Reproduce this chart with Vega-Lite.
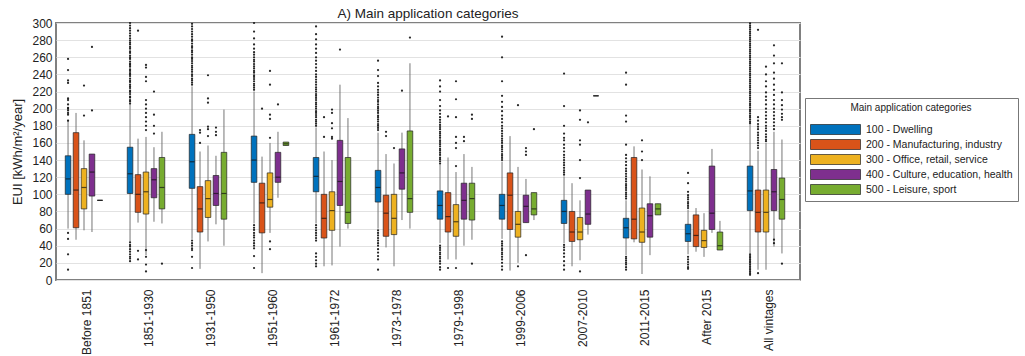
{
  "$schema": "https://vega.github.io/schema/vega-lite/v6.json",
  "width": 744,
  "height": 257,
  "autosize": {"type": "none"},
  "padding": {"left": 56, "top": 23, "right": 225, "bottom": 76},
  "background": "white",
  "config": {
    "font": "Liberation Sans",
    "view": {"stroke": "#808080", "strokeWidth": 2},
    "axis": {"labelColor": "#222", "titleColor": "#222", "labelFontSize": 12, "titleFontSize": 13, "titleFontWeight": "normal"},
    "axisY": {"grid": true, "gridColor": "#e2e2e2", "gridWidth": 1, "ticks": false, "domain": false, "labelPadding": 4, "titlePadding": 7, "labelOverlap": false, "tickCount": 16}
  },
  "title": {"text": "A) Main application categories", "fontSize": 13.5, "fontWeight": "normal", "color": "#222", "offset": -3, "anchor": "middle"},
  "datasets": {
    "boxes": [
      {"p": "Before 1851", "c": "100", "lo": 60, "q1": 100, "med": 118, "q3": 145, "hi": 187},
      {"p": "Before 1851", "c": "200", "lo": 47, "q1": 61, "med": 105, "q3": 172, "hi": 195},
      {"p": "Before 1851", "c": "300", "lo": 58, "q1": 83, "med": 108, "q3": 130, "hi": 163},
      {"p": "Before 1851", "c": "400", "lo": 56, "q1": 98, "med": 126, "q3": 147, "hi": 147},
      {"p": "Before 1851", "c": "500", "lo": 93, "q1": 93, "med": 93, "q3": 93, "hi": 93},
      {"p": "1851-1930", "c": "100", "lo": 45, "q1": 101, "med": 124, "q3": 155, "hi": 205},
      {"p": "1851-1930", "c": "200", "lo": 67, "q1": 79, "med": 100, "q3": 123, "hi": 165},
      {"p": "1851-1930", "c": "300", "lo": 29, "q1": 77, "med": 103, "q3": 126, "hi": 167},
      {"p": "1851-1930", "c": "400", "lo": 68, "q1": 96, "med": 117, "q3": 130, "hi": 155},
      {"p": "1851-1930", "c": "500", "lo": 66, "q1": 83, "med": 108, "q3": 143, "hi": 173},
      {"p": "1931-1950", "c": "100", "lo": 48, "q1": 107, "med": 138, "q3": 170, "hi": 226},
      {"p": "1931-1950", "c": "200", "lo": 13, "q1": 56, "med": 83, "q3": 109, "hi": 150},
      {"p": "1931-1950", "c": "300", "lo": 45, "q1": 73, "med": 95, "q3": 116, "hi": 157},
      {"p": "1931-1950", "c": "400", "lo": 65, "q1": 87, "med": 101, "q3": 122, "hi": 145},
      {"p": "1931-1950", "c": "500", "lo": 40, "q1": 71, "med": 101, "q3": 149, "hi": 199},
      {"p": "1951-1960", "c": "100", "lo": 66, "q1": 114, "med": 140, "q3": 168, "hi": 220},
      {"p": "1951-1960", "c": "200", "lo": 8, "q1": 55, "med": 90, "q3": 113, "hi": 144},
      {"p": "1951-1960", "c": "300", "lo": 55, "q1": 85, "med": 94, "q3": 125, "hi": 160},
      {"p": "1951-1960", "c": "400", "lo": 96, "q1": 114, "med": 120, "q3": 149, "hi": 173},
      {"p": "1951-1960", "c": "500", "lo": 157, "q1": 157, "med": 159, "q3": 161, "hi": 161},
      {"p": "1961-1972", "c": "100", "lo": 66, "q1": 103, "med": 121, "q3": 143, "hi": 178},
      {"p": "1961-1972", "c": "200", "lo": 16, "q1": 49, "med": 72, "q3": 100, "hi": 150},
      {"p": "1961-1972", "c": "300", "lo": 17, "q1": 58, "med": 81, "q3": 103, "hi": 140},
      {"p": "1961-1972", "c": "400", "lo": 39, "q1": 87, "med": 115, "q3": 163, "hi": 228},
      {"p": "1961-1972", "c": "500", "lo": 60, "q1": 66, "med": 79, "q3": 143, "hi": 189},
      {"p": "1973-1978", "c": "100", "lo": 60, "q1": 91, "med": 108, "q3": 128, "hi": 172},
      {"p": "1973-1978", "c": "200", "lo": 38, "q1": 51, "med": 78, "q3": 99, "hi": 147},
      {"p": "1973-1978", "c": "300", "lo": 16, "q1": 53, "med": 72, "q3": 100, "hi": 136},
      {"p": "1973-1978", "c": "400", "lo": 70, "q1": 106, "med": 125, "q3": 153, "hi": 172},
      {"p": "1973-1978", "c": "500", "lo": 60, "q1": 79, "med": 95, "q3": 174, "hi": 253},
      {"p": "1979-1998", "c": "100", "lo": 43, "q1": 71, "med": 87, "q3": 104, "hi": 135},
      {"p": "1979-1998", "c": "200", "lo": 24, "q1": 56, "med": 74, "q3": 102, "hi": 143},
      {"p": "1979-1998", "c": "300", "lo": 24, "q1": 51, "med": 68, "q3": 88, "hi": 126},
      {"p": "1979-1998", "c": "400", "lo": 40, "q1": 71, "med": 93, "q3": 113, "hi": 147},
      {"p": "1979-1998", "c": "500", "lo": 47, "q1": 70, "med": 95, "q3": 113, "hi": 132},
      {"p": "1999-2006", "c": "100", "lo": 48, "q1": 71, "med": 87, "q3": 100, "hi": 138},
      {"p": "1999-2006", "c": "200", "lo": 11, "q1": 59, "med": 99, "q3": 125, "hi": 168},
      {"p": "1999-2006", "c": "300", "lo": 20, "q1": 50, "med": 65, "q3": 80, "hi": 132},
      {"p": "1999-2006", "c": "400", "lo": 67, "q1": 67, "med": 86, "q3": 99, "hi": 118},
      {"p": "1999-2006", "c": "500", "lo": 70, "q1": 76, "med": 83, "q3": 102, "hi": 102},
      {"p": "2007-2010", "c": "100", "lo": 43, "q1": 66, "med": 80, "q3": 93, "hi": 121},
      {"p": "2007-2010", "c": "200", "lo": 16, "q1": 45, "med": 56, "q3": 80, "hi": 113},
      {"p": "2007-2010", "c": "300", "lo": 23, "q1": 47, "med": 56, "q3": 73, "hi": 93},
      {"p": "2007-2010", "c": "400", "lo": 53, "q1": 65, "med": 77, "q3": 105, "hi": 105},
      {"p": "2007-2010", "c": "500", "lo": 215, "q1": 215, "med": 215, "q3": 215, "hi": 215},
      {"p": "2011-2015", "c": "100", "lo": 29, "q1": 49, "med": 61, "q3": 72, "hi": 93},
      {"p": "2011-2015", "c": "200", "lo": 44, "q1": 48, "med": 71, "q3": 143, "hi": 156},
      {"p": "2011-2015", "c": "300", "lo": 7, "q1": 44, "med": 56, "q3": 84, "hi": 129},
      {"p": "2011-2015", "c": "400", "lo": 29, "q1": 50, "med": 75, "q3": 89, "hi": 121},
      {"p": "2011-2015", "c": "500", "lo": 76, "q1": 76, "med": 83, "q3": 89, "hi": 89},
      {"p": "After 2015", "c": "100", "lo": 30, "q1": 45, "med": 54, "q3": 65, "hi": 82},
      {"p": "After 2015", "c": "200", "lo": 33, "q1": 39, "med": 52, "q3": 76, "hi": 84},
      {"p": "After 2015", "c": "300", "lo": 27, "q1": 38, "med": 46, "q3": 58, "hi": 78},
      {"p": "After 2015", "c": "400", "lo": 55, "q1": 59, "med": 78, "q3": 133, "hi": 153},
      {"p": "After 2015", "c": "500", "lo": 35, "q1": 35, "med": 40, "q3": 56, "hi": 69},
      {"p": "All vintages", "c": "100", "lo": 31, "q1": 81, "med": 104, "q3": 133, "hi": 182},
      {"p": "All vintages", "c": "200", "lo": 12, "q1": 56, "med": 79, "q3": 105, "hi": 151},
      {"p": "All vintages", "c": "300", "lo": 12, "q1": 56, "med": 79, "q3": 105, "hi": 160},
      {"p": "All vintages", "c": "400", "lo": 39, "q1": 81, "med": 103, "q3": 129, "hi": 173},
      {"p": "All vintages", "c": "500", "lo": 31, "q1": 71, "med": 94, "q3": 119, "hi": 164}
    ],
    "out": [
      {"p":"Before 1851","c":"100","v":186},{"p":"Before 1851","c":"100","v":193},{"p":"Before 1851","c":"100","v":195},{"p":"Before 1851","c":"100","v":198},{"p":"Before 1851","c":"100","v":200},{"p":"Before 1851","c":"100","v":201},{"p":"Before 1851","c":"100","v":205},{"p":"Before 1851","c":"100","v":210},{"p":"Before 1851","c":"100","v":212},{"p":"Before 1851","c":"100","v":230},{"p":"Before 1851","c":"100","v":233},{"p":"Before 1851","c":"100","v":245},{"p":"Before 1851","c":"100","v":258},{"p":"Before 1851","c":"100","v":55},{"p":"Before 1851","c":"100","v":48},{"p":"Before 1851","c":"100","v":30},{"p":"Before 1851","c":"100","v":12},
      {"p":"Before 1851","c":"300","v":227},{"p":"Before 1851","c":"300","v":192},
      {"p":"Before 1851","c":"400","v":272},{"p":"Before 1851","c":"400","v":198},

      {"p":"1851-1930","c":"100","v":206},{"p":"1851-1930","c":"100","v":208.5},{"p":"1851-1930","c":"100","v":210},{"p":"1851-1930","c":"100","v":213},{"p":"1851-1930","c":"100","v":214},{"p":"1851-1930","c":"100","v":217},{"p":"1851-1930","c":"100","v":219.5},{"p":"1851-1930","c":"100","v":221},{"p":"1851-1930","c":"100","v":224},{"p":"1851-1930","c":"100","v":226},{"p":"1851-1930","c":"100","v":228},{"p":"1851-1930","c":"100","v":231},{"p":"1851-1930","c":"100","v":232.5},{"p":"1851-1930","c":"100","v":235},{"p":"1851-1930","c":"100","v":238},{"p":"1851-1930","c":"100","v":240},{"p":"1851-1930","c":"100","v":241.5},{"p":"1851-1930","c":"100","v":244},{"p":"1851-1930","c":"100","v":246},{"p":"1851-1930","c":"100","v":249},{"p":"1851-1930","c":"100","v":251},{"p":"1851-1930","c":"100","v":252.5},{"p":"1851-1930","c":"100","v":255},{"p":"1851-1930","c":"100","v":258},{"p":"1851-1930","c":"100","v":260},{"p":"1851-1930","c":"100","v":262},{"p":"1851-1930","c":"100","v":265},{"p":"1851-1930","c":"100","v":267},{"p":"1851-1930","c":"100","v":270},{"p":"1851-1930","c":"100","v":272},{"p":"1851-1930","c":"100","v":275},{"p":"1851-1930","c":"100","v":277},{"p":"1851-1930","c":"100","v":279.5},{"p":"1851-1930","c":"100","v":282},{"p":"1851-1930","c":"100","v":285},{"p":"1851-1930","c":"100","v":288},{"p":"1851-1930","c":"100","v":291},{"p":"1851-1930","c":"100","v":294},{"p":"1851-1930","c":"100","v":297},{"p":"1851-1930","c":"100","v":300},{"p":"1851-1930","c":"100","v":44},{"p":"1851-1930","c":"100","v":41},{"p":"1851-1930","c":"100","v":39},{"p":"1851-1930","c":"100","v":36},{"p":"1851-1930","c":"100","v":33},{"p":"1851-1930","c":"100","v":30},{"p":"1851-1930","c":"100","v":27},{"p":"1851-1930","c":"100","v":25},{"p":"1851-1930","c":"100","v":22},
      {"p":"1851-1930","c":"200","v":291},{"p":"1851-1930","c":"200","v":34},{"p":"1851-1930","c":"200","v":24},
      {"p":"1851-1930","c":"300","v":251},{"p":"1851-1930","c":"300","v":248},{"p":"1851-1930","c":"300","v":237},{"p":"1851-1930","c":"300","v":232},{"p":"1851-1930","c":"300","v":210},{"p":"1851-1930","c":"300","v":205},{"p":"1851-1930","c":"300","v":200},{"p":"1851-1930","c":"300","v":195},{"p":"1851-1930","c":"300","v":190},{"p":"1851-1930","c":"300","v":185},{"p":"1851-1930","c":"300","v":180},{"p":"1851-1930","c":"300","v":175},{"p":"1851-1930","c":"300","v":35},{"p":"1851-1930","c":"300","v":27},{"p":"1851-1930","c":"300","v":18},{"p":"1851-1930","c":"300","v":10},
      {"p":"1851-1930","c":"400","v":220},{"p":"1851-1930","c":"400","v":193},{"p":"1851-1930","c":"400","v":180},{"p":"1851-1930","c":"400","v":171},
      {"p":"1851-1930","c":"500","v":19},

      {"p":"1931-1950","c":"100","v":228},{"p":"1931-1950","c":"100","v":230.5},{"p":"1931-1950","c":"100","v":233},{"p":"1931-1950","c":"100","v":235},{"p":"1931-1950","c":"100","v":238},{"p":"1931-1950","c":"100","v":240},{"p":"1931-1950","c":"100","v":243},{"p":"1931-1950","c":"100","v":245.5},{"p":"1931-1950","c":"100","v":248},{"p":"1931-1950","c":"100","v":250},{"p":"1931-1950","c":"100","v":253},{"p":"1931-1950","c":"100","v":255.5},{"p":"1931-1950","c":"100","v":258},{"p":"1931-1950","c":"100","v":260},{"p":"1931-1950","c":"100","v":263},{"p":"1931-1950","c":"100","v":266},{"p":"1931-1950","c":"100","v":268},{"p":"1931-1950","c":"100","v":271},{"p":"1931-1950","c":"100","v":273},{"p":"1931-1950","c":"100","v":276},{"p":"1931-1950","c":"100","v":279},{"p":"1931-1950","c":"100","v":281},{"p":"1931-1950","c":"100","v":284},{"p":"1931-1950","c":"100","v":287},{"p":"1931-1950","c":"100","v":290},{"p":"1931-1950","c":"100","v":293},{"p":"1931-1950","c":"100","v":296},{"p":"1931-1950","c":"100","v":299},{"p":"1931-1950","c":"100","v":46},{"p":"1931-1950","c":"100","v":43},{"p":"1931-1950","c":"100","v":40},{"p":"1931-1950","c":"100","v":37},{"p":"1931-1950","c":"100","v":35},{"p":"1931-1950","c":"100","v":27},{"p":"1931-1950","c":"100","v":14},
      {"p":"1931-1950","c":"200","v":175},{"p":"1931-1950","c":"200","v":172},{"p":"1931-1950","c":"200","v":160},
      {"p":"1931-1950","c":"300","v":239},{"p":"1931-1950","c":"300","v":212},{"p":"1931-1950","c":"300","v":207},{"p":"1931-1950","c":"300","v":179},{"p":"1931-1950","c":"300","v":176},{"p":"1931-1950","c":"300","v":168},
      {"p":"1931-1950","c":"400","v":178},{"p":"1931-1950","c":"400","v":173},{"p":"1931-1950","c":"400","v":169},

      {"p":"1951-1960","c":"100","v":222},{"p":"1951-1960","c":"100","v":224.5},{"p":"1951-1960","c":"100","v":227},{"p":"1951-1960","c":"100","v":229},{"p":"1951-1960","c":"100","v":232},{"p":"1951-1960","c":"100","v":234.5},{"p":"1951-1960","c":"100","v":237},{"p":"1951-1960","c":"100","v":239},{"p":"1951-1960","c":"100","v":242},{"p":"1951-1960","c":"100","v":244},{"p":"1951-1960","c":"100","v":247},{"p":"1951-1960","c":"100","v":249.5},{"p":"1951-1960","c":"100","v":252},{"p":"1951-1960","c":"100","v":255},{"p":"1951-1960","c":"100","v":257},{"p":"1951-1960","c":"100","v":260},{"p":"1951-1960","c":"100","v":263},{"p":"1951-1960","c":"100","v":266},{"p":"1951-1960","c":"100","v":270},{"p":"1951-1960","c":"100","v":275},{"p":"1951-1960","c":"100","v":282},{"p":"1951-1960","c":"100","v":290},{"p":"1951-1960","c":"100","v":300},{"p":"1951-1960","c":"100","v":64},{"p":"1951-1960","c":"100","v":61},{"p":"1951-1960","c":"100","v":58.5},{"p":"1951-1960","c":"100","v":55},{"p":"1951-1960","c":"100","v":52},{"p":"1951-1960","c":"100","v":49.5},{"p":"1951-1960","c":"100","v":46},{"p":"1951-1960","c":"100","v":43},{"p":"1951-1960","c":"100","v":40},{"p":"1951-1960","c":"100","v":37},{"p":"1951-1960","c":"100","v":28},{"p":"1951-1960","c":"100","v":14},
      {"p":"1951-1960","c":"200","v":200},
      {"p":"1951-1960","c":"300","v":244},{"p":"1951-1960","c":"300","v":228},{"p":"1951-1960","c":"300","v":193},{"p":"1951-1960","c":"300","v":188},{"p":"1951-1960","c":"300","v":166},{"p":"1951-1960","c":"300","v":45},{"p":"1951-1960","c":"300","v":36},
      {"p":"1951-1960","c":"400","v":205},

      {"p":"1961-1972","c":"100","v":180},{"p":"1961-1972","c":"100","v":182.5},{"p":"1961-1972","c":"100","v":185},{"p":"1961-1972","c":"100","v":187},{"p":"1961-1972","c":"100","v":190},{"p":"1961-1972","c":"100","v":192.5},{"p":"1961-1972","c":"100","v":195},{"p":"1961-1972","c":"100","v":197},{"p":"1961-1972","c":"100","v":200},{"p":"1961-1972","c":"100","v":202.5},{"p":"1961-1972","c":"100","v":205},{"p":"1961-1972","c":"100","v":207},{"p":"1961-1972","c":"100","v":210},{"p":"1961-1972","c":"100","v":212.5},{"p":"1961-1972","c":"100","v":215},{"p":"1961-1972","c":"100","v":217},{"p":"1961-1972","c":"100","v":220},{"p":"1961-1972","c":"100","v":222.5},{"p":"1961-1972","c":"100","v":225},{"p":"1961-1972","c":"100","v":228},{"p":"1961-1972","c":"100","v":231},{"p":"1961-1972","c":"100","v":234},{"p":"1961-1972","c":"100","v":237},{"p":"1961-1972","c":"100","v":240},{"p":"1961-1972","c":"100","v":244},{"p":"1961-1972","c":"100","v":248},{"p":"1961-1972","c":"100","v":252},{"p":"1961-1972","c":"100","v":256},{"p":"1961-1972","c":"100","v":260},{"p":"1961-1972","c":"100","v":265},{"p":"1961-1972","c":"100","v":270},{"p":"1961-1972","c":"100","v":275},{"p":"1961-1972","c":"100","v":281},{"p":"1961-1972","c":"100","v":287},{"p":"1961-1972","c":"100","v":296},{"p":"1961-1972","c":"100","v":64},{"p":"1961-1972","c":"100","v":61},{"p":"1961-1972","c":"100","v":58},{"p":"1961-1972","c":"100","v":55},{"p":"1961-1972","c":"100","v":52},{"p":"1961-1972","c":"100","v":49},{"p":"1961-1972","c":"100","v":46},{"p":"1961-1972","c":"100","v":31},{"p":"1961-1972","c":"100","v":27},{"p":"1961-1972","c":"100","v":23},{"p":"1961-1972","c":"100","v":19},{"p":"1961-1972","c":"100","v":16},
      {"p":"1961-1972","c":"200","v":190},{"p":"1961-1972","c":"200","v":167},
      {"p":"1961-1972","c":"300","v":199},{"p":"1961-1972","c":"300","v":195},{"p":"1961-1972","c":"300","v":183},{"p":"1961-1972","c":"300","v":177},{"p":"1961-1972","c":"300","v":167},{"p":"1961-1972","c":"300","v":165},
      {"p":"1961-1972","c":"400","v":269},

      {"p":"1973-1978","c":"100","v":175},{"p":"1973-1978","c":"100","v":177.5},{"p":"1973-1978","c":"100","v":180},{"p":"1973-1978","c":"100","v":182},{"p":"1973-1978","c":"100","v":185},{"p":"1973-1978","c":"100","v":187.5},{"p":"1973-1978","c":"100","v":190},{"p":"1973-1978","c":"100","v":192},{"p":"1973-1978","c":"100","v":195},{"p":"1973-1978","c":"100","v":197.5},{"p":"1973-1978","c":"100","v":200},{"p":"1973-1978","c":"100","v":202},{"p":"1973-1978","c":"100","v":205},{"p":"1973-1978","c":"100","v":208},{"p":"1973-1978","c":"100","v":210},{"p":"1973-1978","c":"100","v":213},{"p":"1973-1978","c":"100","v":216},{"p":"1973-1978","c":"100","v":219},{"p":"1973-1978","c":"100","v":222},{"p":"1973-1978","c":"100","v":226},{"p":"1973-1978","c":"100","v":230},{"p":"1973-1978","c":"100","v":238},{"p":"1973-1978","c":"100","v":245},{"p":"1973-1978","c":"100","v":256},{"p":"1973-1978","c":"100","v":58},{"p":"1973-1978","c":"100","v":55},{"p":"1973-1978","c":"100","v":52},{"p":"1973-1978","c":"100","v":49},{"p":"1973-1978","c":"100","v":46},{"p":"1973-1978","c":"100","v":43},{"p":"1973-1978","c":"100","v":40},{"p":"1973-1978","c":"100","v":36},{"p":"1973-1978","c":"100","v":32},{"p":"1973-1978","c":"100","v":28},{"p":"1973-1978","c":"100","v":24},{"p":"1973-1978","c":"100","v":12},
      {"p":"1973-1978","c":"200","v":173},{"p":"1973-1978","c":"200","v":168},
      {"p":"1973-1978","c":"300","v":154},
      {"p":"1973-1978","c":"400","v":221},
      {"p":"1973-1978","c":"500","v":283},

      {"p":"1979-1998","c":"100","v":136},{"p":"1979-1998","c":"100","v":138.5},{"p":"1979-1998","c":"100","v":141},{"p":"1979-1998","c":"100","v":143},{"p":"1979-1998","c":"100","v":146},{"p":"1979-1998","c":"100","v":148.5},{"p":"1979-1998","c":"100","v":151},{"p":"1979-1998","c":"100","v":153},{"p":"1979-1998","c":"100","v":156},{"p":"1979-1998","c":"100","v":158.5},{"p":"1979-1998","c":"100","v":161},{"p":"1979-1998","c":"100","v":163},{"p":"1979-1998","c":"100","v":166},{"p":"1979-1998","c":"100","v":168.5},{"p":"1979-1998","c":"100","v":171},{"p":"1979-1998","c":"100","v":173},{"p":"1979-1998","c":"100","v":176},{"p":"1979-1998","c":"100","v":178.5},{"p":"1979-1998","c":"100","v":181},{"p":"1979-1998","c":"100","v":184},{"p":"1979-1998","c":"100","v":187},{"p":"1979-1998","c":"100","v":190},{"p":"1979-1998","c":"100","v":194},{"p":"1979-1998","c":"100","v":198},{"p":"1979-1998","c":"100","v":203},{"p":"1979-1998","c":"100","v":210},{"p":"1979-1998","c":"100","v":220},{"p":"1979-1998","c":"100","v":226},{"p":"1979-1998","c":"100","v":233},{"p":"1979-1998","c":"100","v":40},{"p":"1979-1998","c":"100","v":37.5},{"p":"1979-1998","c":"100","v":35},{"p":"1979-1998","c":"100","v":32},{"p":"1979-1998","c":"100","v":30},{"p":"1979-1998","c":"100","v":27},{"p":"1979-1998","c":"100","v":25},{"p":"1979-1998","c":"100","v":22},{"p":"1979-1998","c":"100","v":19},{"p":"1979-1998","c":"100","v":15},{"p":"1979-1998","c":"100","v":12},
      {"p":"1979-1998","c":"200","v":191},{"p":"1979-1998","c":"200","v":14},
      {"p":"1979-1998","c":"300","v":232},{"p":"1979-1998","c":"300","v":211},{"p":"1979-1998","c":"300","v":190},{"p":"1979-1998","c":"300","v":167},{"p":"1979-1998","c":"300","v":160},{"p":"1979-1998","c":"300","v":154},{"p":"1979-1998","c":"300","v":133},{"p":"1979-1998","c":"300","v":14},
      {"p":"1979-1998","c":"400","v":167},{"p":"1979-1998","c":"400","v":162},
      {"p":"1979-1998","c":"500","v":193},{"p":"1979-1998","c":"500","v":188},{"p":"1979-1998","c":"500","v":19},

      {"p":"1999-2006","c":"100","v":140},{"p":"1999-2006","c":"100","v":142.5},{"p":"1999-2006","c":"100","v":145},{"p":"1999-2006","c":"100","v":147},{"p":"1999-2006","c":"100","v":150},{"p":"1999-2006","c":"100","v":152.5},{"p":"1999-2006","c":"100","v":155},{"p":"1999-2006","c":"100","v":157},{"p":"1999-2006","c":"100","v":160},{"p":"1999-2006","c":"100","v":162.5},{"p":"1999-2006","c":"100","v":165},{"p":"1999-2006","c":"100","v":168},{"p":"1999-2006","c":"100","v":171},{"p":"1999-2006","c":"100","v":174},{"p":"1999-2006","c":"100","v":177},{"p":"1999-2006","c":"100","v":180},{"p":"1999-2006","c":"100","v":184},{"p":"1999-2006","c":"100","v":188},{"p":"1999-2006","c":"100","v":192},{"p":"1999-2006","c":"100","v":197},{"p":"1999-2006","c":"100","v":202},{"p":"1999-2006","c":"100","v":208},{"p":"1999-2006","c":"100","v":215},{"p":"1999-2006","c":"100","v":232},{"p":"1999-2006","c":"100","v":260},{"p":"1999-2006","c":"100","v":284},{"p":"1999-2006","c":"100","v":45},{"p":"1999-2006","c":"100","v":42.5},{"p":"1999-2006","c":"100","v":40},{"p":"1999-2006","c":"100","v":37},{"p":"1999-2006","c":"100","v":35},{"p":"1999-2006","c":"100","v":32},{"p":"1999-2006","c":"100","v":30},{"p":"1999-2006","c":"100","v":27},{"p":"1999-2006","c":"100","v":24},{"p":"1999-2006","c":"100","v":20},{"p":"1999-2006","c":"100","v":16},{"p":"1999-2006","c":"100","v":12},
      {"p":"1999-2006","c":"300","v":204},{"p":"1999-2006","c":"300","v":16},
      {"p":"1999-2006","c":"400","v":154},{"p":"1999-2006","c":"400","v":150},{"p":"1999-2006","c":"400","v":146},{"p":"1999-2006","c":"400","v":29},
      {"p":"1999-2006","c":"500","v":176},

      {"p":"2007-2010","c":"100","v":123},{"p":"2007-2010","c":"100","v":125.5},{"p":"2007-2010","c":"100","v":128},{"p":"2007-2010","c":"100","v":131},{"p":"2007-2010","c":"100","v":134},{"p":"2007-2010","c":"100","v":137},{"p":"2007-2010","c":"100","v":140},{"p":"2007-2010","c":"100","v":143},{"p":"2007-2010","c":"100","v":146},{"p":"2007-2010","c":"100","v":150},{"p":"2007-2010","c":"100","v":154},{"p":"2007-2010","c":"100","v":158},{"p":"2007-2010","c":"100","v":163},{"p":"2007-2010","c":"100","v":166},{"p":"2007-2010","c":"100","v":171},{"p":"2007-2010","c":"100","v":180},{"p":"2007-2010","c":"100","v":203},{"p":"2007-2010","c":"100","v":241},{"p":"2007-2010","c":"100","v":41},{"p":"2007-2010","c":"100","v":38},{"p":"2007-2010","c":"100","v":35},{"p":"2007-2010","c":"100","v":31},{"p":"2007-2010","c":"100","v":27},{"p":"2007-2010","c":"100","v":22},{"p":"2007-2010","c":"100","v":17},{"p":"2007-2010","c":"100","v":12},
      {"p":"2007-2010","c":"300","v":198},{"p":"2007-2010","c":"300","v":187},{"p":"2007-2010","c":"300","v":163},{"p":"2007-2010","c":"300","v":158},{"p":"2007-2010","c":"300","v":140},{"p":"2007-2010","c":"300","v":119},{"p":"2007-2010","c":"300","v":10},
      {"p":"2007-2010","c":"400","v":184},

      {"p":"2011-2015","c":"100","v":95},{"p":"2011-2015","c":"100","v":97.5},{"p":"2011-2015","c":"100","v":100},{"p":"2011-2015","c":"100","v":102},{"p":"2011-2015","c":"100","v":105},{"p":"2011-2015","c":"100","v":107.5},{"p":"2011-2015","c":"100","v":110},{"p":"2011-2015","c":"100","v":112},{"p":"2011-2015","c":"100","v":115},{"p":"2011-2015","c":"100","v":118},{"p":"2011-2015","c":"100","v":121},{"p":"2011-2015","c":"100","v":124},{"p":"2011-2015","c":"100","v":127},{"p":"2011-2015","c":"100","v":130},{"p":"2011-2015","c":"100","v":134},{"p":"2011-2015","c":"100","v":138},{"p":"2011-2015","c":"100","v":142},{"p":"2011-2015","c":"100","v":146},{"p":"2011-2015","c":"100","v":158},{"p":"2011-2015","c":"100","v":185},{"p":"2011-2015","c":"100","v":192},{"p":"2011-2015","c":"100","v":228},{"p":"2011-2015","c":"100","v":242},{"p":"2011-2015","c":"100","v":27},{"p":"2011-2015","c":"100","v":25},{"p":"2011-2015","c":"100","v":22.5},{"p":"2011-2015","c":"100","v":20},{"p":"2011-2015","c":"100","v":18},{"p":"2011-2015","c":"100","v":15},{"p":"2011-2015","c":"100","v":12},
      {"p":"2011-2015","c":"300","v":163},{"p":"2011-2015","c":"300","v":150},{"p":"2011-2015","c":"300","v":140},

      {"p":"After 2015","c":"100","v":84},{"p":"After 2015","c":"100","v":86.5},{"p":"After 2015","c":"100","v":89},{"p":"After 2015","c":"100","v":91},{"p":"After 2015","c":"100","v":94},{"p":"After 2015","c":"100","v":96.5},{"p":"After 2015","c":"100","v":99},{"p":"After 2015","c":"100","v":103},{"p":"After 2015","c":"100","v":113},{"p":"After 2015","c":"100","v":125},{"p":"After 2015","c":"100","v":27},{"p":"After 2015","c":"100","v":24},{"p":"After 2015","c":"100","v":21},{"p":"After 2015","c":"100","v":18},{"p":"After 2015","c":"100","v":15},{"p":"After 2015","c":"100","v":13},

      {"p":"All vintages","c":"100","v":183},{"p":"All vintages","c":"100","v":185},{"p":"All vintages","c":"100","v":187.5},{"p":"All vintages","c":"100","v":190},{"p":"All vintages","c":"100","v":192},{"p":"All vintages","c":"100","v":194.5},{"p":"All vintages","c":"100","v":197},{"p":"All vintages","c":"100","v":199},{"p":"All vintages","c":"100","v":201.5},{"p":"All vintages","c":"100","v":204},{"p":"All vintages","c":"100","v":206},{"p":"All vintages","c":"100","v":208.5},{"p":"All vintages","c":"100","v":211},{"p":"All vintages","c":"100","v":213},{"p":"All vintages","c":"100","v":215.5},{"p":"All vintages","c":"100","v":218},{"p":"All vintages","c":"100","v":220},{"p":"All vintages","c":"100","v":222.5},{"p":"All vintages","c":"100","v":225},{"p":"All vintages","c":"100","v":227},{"p":"All vintages","c":"100","v":229.5},{"p":"All vintages","c":"100","v":232},{"p":"All vintages","c":"100","v":234},{"p":"All vintages","c":"100","v":236.5},{"p":"All vintages","c":"100","v":239},{"p":"All vintages","c":"100","v":241},{"p":"All vintages","c":"100","v":243.5},{"p":"All vintages","c":"100","v":246},{"p":"All vintages","c":"100","v":248},{"p":"All vintages","c":"100","v":250.5},{"p":"All vintages","c":"100","v":253},{"p":"All vintages","c":"100","v":255},{"p":"All vintages","c":"100","v":257.5},{"p":"All vintages","c":"100","v":260},{"p":"All vintages","c":"100","v":262},{"p":"All vintages","c":"100","v":264.5},{"p":"All vintages","c":"100","v":267},{"p":"All vintages","c":"100","v":269},{"p":"All vintages","c":"100","v":271.5},{"p":"All vintages","c":"100","v":274},{"p":"All vintages","c":"100","v":276},{"p":"All vintages","c":"100","v":278.5},{"p":"All vintages","c":"100","v":281},{"p":"All vintages","c":"100","v":283},{"p":"All vintages","c":"100","v":285.5},{"p":"All vintages","c":"100","v":288},{"p":"All vintages","c":"100","v":290},{"p":"All vintages","c":"100","v":292.5},{"p":"All vintages","c":"100","v":295},{"p":"All vintages","c":"100","v":297},{"p":"All vintages","c":"100","v":299.5},{"p":"All vintages","c":"100","v":30},{"p":"All vintages","c":"100","v":28},{"p":"All vintages","c":"100","v":26},{"p":"All vintages","c":"100","v":24},{"p":"All vintages","c":"100","v":22},{"p":"All vintages","c":"100","v":20},{"p":"All vintages","c":"100","v":18},{"p":"All vintages","c":"100","v":16},{"p":"All vintages","c":"100","v":14},{"p":"All vintages","c":"100","v":12},{"p":"All vintages","c":"100","v":10},{"p":"All vintages","c":"100","v":8},{"p":"All vintages","c":"100","v":6},
      {"p":"All vintages","c":"200","v":292},{"p":"All vintages","c":"200","v":190},{"p":"All vintages","c":"200","v":186},{"p":"All vintages","c":"200","v":182},{"p":"All vintages","c":"200","v":179},{"p":"All vintages","c":"200","v":176},{"p":"All vintages","c":"200","v":172},{"p":"All vintages","c":"200","v":169},{"p":"All vintages","c":"200","v":166},{"p":"All vintages","c":"200","v":163},{"p":"All vintages","c":"200","v":160},{"p":"All vintages","c":"200","v":157},{"p":"All vintages","c":"200","v":154},{"p":"All vintages","c":"200","v":8},
      {"p":"All vintages","c":"300","v":249},{"p":"All vintages","c":"300","v":240},{"p":"All vintages","c":"300","v":232},{"p":"All vintages","c":"300","v":226},{"p":"All vintages","c":"300","v":219},{"p":"All vintages","c":"300","v":214},{"p":"All vintages","c":"300","v":210},{"p":"All vintages","c":"300","v":205},{"p":"All vintages","c":"300","v":200},{"p":"All vintages","c":"300","v":196},{"p":"All vintages","c":"300","v":192},{"p":"All vintages","c":"300","v":188},{"p":"All vintages","c":"300","v":184},{"p":"All vintages","c":"300","v":180},{"p":"All vintages","c":"300","v":177},{"p":"All vintages","c":"300","v":174},{"p":"All vintages","c":"300","v":170},{"p":"All vintages","c":"300","v":167},{"p":"All vintages","c":"300","v":164},{"p":"All vintages","c":"300","v":162},
      {"p":"All vintages","c":"400","v":274},{"p":"All vintages","c":"400","v":262},{"p":"All vintages","c":"400","v":253},{"p":"All vintages","c":"400","v":242},{"p":"All vintages","c":"400","v":235},{"p":"All vintages","c":"400","v":228},{"p":"All vintages","c":"400","v":222},{"p":"All vintages","c":"400","v":216},{"p":"All vintages","c":"400","v":210},{"p":"All vintages","c":"400","v":205},{"p":"All vintages","c":"400","v":200},{"p":"All vintages","c":"400","v":196},{"p":"All vintages","c":"400","v":192},{"p":"All vintages","c":"400","v":188},{"p":"All vintages","c":"400","v":184},{"p":"All vintages","c":"400","v":180},{"p":"All vintages","c":"400","v":176},{"p":"All vintages","c":"400","v":47},{"p":"All vintages","c":"400","v":43},
      {"p":"All vintages","c":"500","v":253},{"p":"All vintages","c":"500","v":219},{"p":"All vintages","c":"500","v":210},{"p":"All vintages","c":"500","v":204},{"p":"All vintages","c":"500","v":199},{"p":"All vintages","c":"500","v":194},{"p":"All vintages","c":"500","v":190},{"p":"All vintages","c":"500","v":187},{"p":"All vintages","c":"500","v":19}
    ]
  },
  "encoding": {
    "x": {
      "field": "p", "type": "nominal",
      "sort": ["Before 1851","1851-1930","1931-1950","1951-1960","1961-1972","1973-1978","1979-1998","1999-2006","2007-2010","2011-2015","After 2015","All vintages"],
      "scale": {"paddingInner": 0, "paddingOuter": 0},
      "axis": {"title": null, "labelAngle": -90, "labelAlign": "right", "labelBaseline": "middle", "ticks": false, "domain": false, "labelPadding": 9, "grid": false}
    },
    "xOffset": {
      "field": "c", "type": "nominal",
      "sort": ["100","200","300","400","500"],
      "scale": {"range": [9.25, 46.75], "paddingInner": 0.3, "paddingOuter": 0}
    }
  },
  "layer": [
    {
      "data": {"name": "boxes"},
      "mark": {"type": "rule", "color": "#666", "strokeWidth": 0.9},
      "encoding": {
        "y": {"field": "lo", "type": "quantitative", "scale": {"domain": [0, 300], "nice": false, "zero": true},
              "axis": {"title": "EUI [kWh/m²/year]", "values": [0,20,40,60,80,100,120,140,160,180,200,220,240,260,280,300]}},
        "y2": {"field": "hi"}
      }
    },
    {
      "data": {"name": "out"},
      "mark": {"type": "circle", "color": "#111", "size": 5, "opacity": 0.9},
      "encoding": {
        "y": {"field": "v", "type": "quantitative", "axis": {"title": "EUI [kWh/m²/year]", "values": [0,20,40,60,80,100,120,140,160,180,200,220,240,260,280,300]}}
      }
    },
    {
      "data": {"name": "boxes"},
      "mark": {"type": "bar", "stroke": "#222", "strokeWidth": 0.7},
      "encoding": {
        "y": {"field": "q1", "type": "quantitative", "axis": {"title": "EUI [kWh/m²/year]", "values": [0,20,40,60,80,100,120,140,160,180,200,220,240,260,280,300]}},
        "y2": {"field": "q3"},
        "color": {
          "field": "c", "type": "nominal",
          "scale": {"domain": ["100","200","300","400","500"], "range": ["#0072BD","#D95319","#EDB120","#7E2F8E","#77AC30"]},
          "legend": {
            "title": "Main application categories",
            "orient": "none", "legendX": 749, "legendY": 75,
            "labelExpr": "{'100':'100 - Dwelling','200':'200 - Manufacturing, industry','300':'300 - Office, retail, service','400':'400 - Culture, education, health','500':'500 - Leisure, sport'}[datum.value]",
            "symbolType": "M-1,-1H9V1H-1Z", "symbolSize": 100, "symbolStrokeColor": "#222", "symbolStrokeWidth": 0.7, "symbolOpacity": 1,
            "labelOffset": 45, "labelFontSize": 10.5, "labelColor": "#222", "rowPadding": 2,
            "titleFontSize": 10, "titleFontWeight": "normal", "titleColor": "#222", "titleAnchor": "middle", "titlePadding": 11,
            "strokeColor": "#777", "fillColor": "white", "padding": 5
          }
        }
      }
    },
    {
      "data": {"name": "boxes"},
      "mark": {"type": "tick", "color": "#111", "thickness": 1.2, "size": 5},
      "encoding": {
        "y": {"field": "med", "type": "quantitative", "axis": {"title": "EUI [kWh/m²/year]", "values": [0,20,40,60,80,100,120,140,160,180,200,220,240,260,280,300]}}
      }
    }
  ]
}
